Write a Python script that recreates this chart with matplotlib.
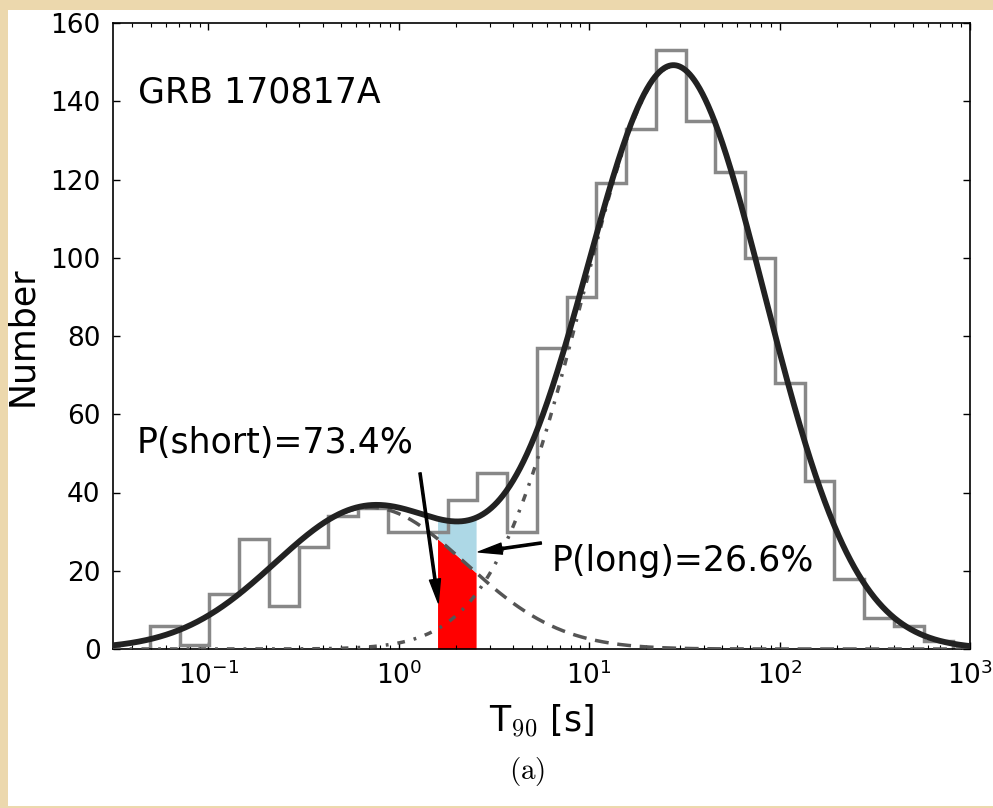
import numpy as np
import matplotlib
matplotlib.use("Agg")
import matplotlib.pyplot as plt
from matplotlib.patches import Rectangle

# histogram of T90 (log-spaced bins)
log_edge_lo, log_edge_hi = -1.306, 2.913
counts = [6, 1, 14, 28, 11, 26, 34, 36, 30, 30, 38, 45, 30, 77, 90,
          119, 133, 153, 135, 122, 100, 68, 43, 18, 8, 6, 2]

# two lognormal components (log10 T90)
short_amp, short_mu, short_sig = 36.2, -0.15, 0.50
long_amp, long_mu, long_sig = 149.0, 1.445, 0.478

# T90 interval of GRB 170817A
t90_lo, t90_hi = 1.6, 2.55

def comp(x, a, mu, sig):
    return a * np.exp(-0.5 * ((np.log10(x) - mu) / sig) ** 2)

edges = np.logspace(log_edge_lo, log_edge_hi, len(counts) + 1)

fig = plt.figure(figsize=(9.93, 8.08), dpi=100, facecolor='#ecd8ad')
fig.patches.append(Rectangle((8 / 993, 2 / 808), 1, 796 / 808, transform=fig.transFigure,
                             facecolor='white', edgecolor='none', zorder=-10))
ax = fig.add_axes([113 / 993, 1 - 649 / 808, 857 / 993, 626 / 808])

x = np.logspace(-1.5, 3, 1500)
ys = comp(x, short_amp, short_mu, short_sig)
yl = comp(x, long_amp, long_mu, long_sig)

xf = np.logspace(np.log10(t90_lo), np.log10(t90_hi), 100)
fs = comp(xf, short_amp, short_mu, short_sig)
fl = comp(xf, long_amp, long_mu, long_sig)
ax.fill_between(xf, 0, fs, color='red', lw=0, zorder=1)
ax.fill_between(xf, fs, fs + fl, color='lightblue', lw=0, zorder=1)

ax.stairs(counts, edges, color='#888888', lw=2.5, zorder=2)
ax.plot(x, ys, color='#555555', lw=2.5, dashes=(4, 2.5), zorder=3)
ax.plot(x, yl, color='#555555', lw=2.5, dashes=(2.2, 2.6, 0.8, 2.6), zorder=3)
ax.plot(x, ys + yl, color='#222222', lw=4.2, zorder=4)

ax.set_xscale('log')
ax.set_xlim(10 ** -1.5, 1e3)
ax.set_ylim(0, 160)
ax.set_yticks(range(0, 161, 20))

ax.tick_params(which='both', direction='in', top=True, right=True, labelsize=19, pad=9)
ax.tick_params(which='major', length=5, width=1)
ax.tick_params(which='minor', length=3, width=0.8)
for s in ax.spines.values():
    s.set_linewidth(1.2)

ax.set_ylabel('Number', fontsize=25, labelpad=8)
ax.set_xlabel('T$_{90}$ [s]', fontsize=25, labelpad=9, math_fontfamily='cm')

ax.text(0.0428, 139.6, 'GRB 170817A', fontsize=25, va='baseline')
ax.text(0.0419, 50.1, 'P(short)=73.4%', fontsize=25, va='baseline')
ax.text(6.33, 19.9, 'P(long)=26.6%', fontsize=25, va='baseline')

arrow = dict(facecolor='black', edgecolor='black', width=1.6, headwidth=8,
             headlength=17, shrink=0)
ax.annotate('', xy=(1.614, 11.8), xytext=(1.294, 45.0), arrowprops=arrow, zorder=5)
ax.annotate('', xy=(2.62, 24.8), xytext=(5.61, 27.1), arrowprops=arrow, zorder=5)

fig.text(527 / 993, 1 - 772 / 808, r'$\mathrm{(a)}$', fontsize=21, ha='center', va='center',
         math_fontfamily='cm')

fig.savefig('out.png', dpi=100, facecolor=fig.get_facecolor())
